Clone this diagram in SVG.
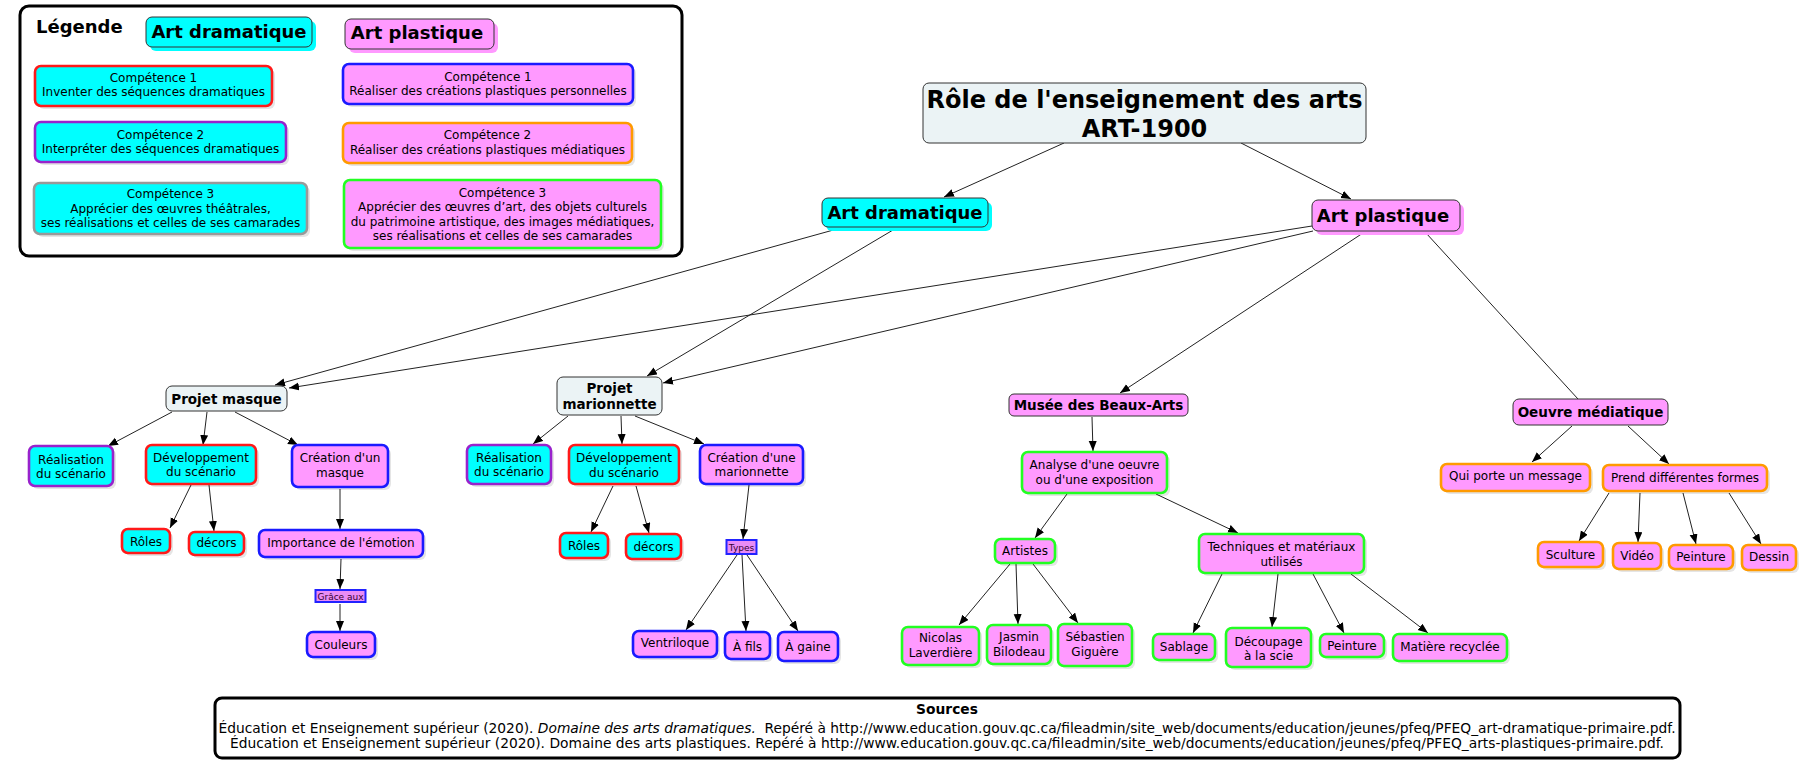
<svg xmlns="http://www.w3.org/2000/svg" width="1804" height="770" viewBox="0 0 1804 770">
<style>
text{font-family:"DejaVu Sans",Verdana,sans-serif;fill:#000;text-anchor:middle}
.t{font-size:12px}
.b{font-weight:bold}
.sh{fill:#000;opacity:0.1}
.cy{fill:#00FFFF}
.pk{fill:#FF99FF}
.lt{fill:#EBF3F5;stroke:#333;stroke-width:1}
.red{stroke:#FF1A1A;stroke-width:2.6}
.pur{stroke:#9922CC;stroke-width:2.6}
.gry{stroke:#999;stroke-width:2.6}
.blu{stroke:#1A1AFF;stroke-width:2.6}
.org{stroke:#FF9A00;stroke-width:2.6}
.grn{stroke:#22FF22;stroke-width:2.6}
.dk{stroke:#333;stroke-width:1}
.e line{stroke:#222;stroke-width:1}
.a{marker-end:url(#ah)}
.src{font-size:13.8px}
</style>
<defs>
<marker id="ah" markerUnits="userSpaceOnUse" markerWidth="11" markerHeight="9" refX="10" refY="4" orient="auto">
<path d="M0,0 L10,4 L0,8 z" fill="#000"/>
</marker>
</defs>

<g id="legende">
<rect x="20" y="6" width="662" height="250" rx="9" fill="#fff" stroke="#000" stroke-width="3"/>
<text x="36" y="33" class="b" style="font-size:18px;text-anchor:start">Légende</text>
<g id="leg-dram">
<rect x="150" y="21" width="166" height="30" rx="6" fill="#00FFFF"/>
<rect x="146" y="17" width="166" height="30" rx="6" class="cy dk"/>
<text x="229" y="38" class="b" style="font-size:18px">Art dramatique</text>
</g>
<g id="leg-plast">
<rect x="349" y="23" width="149" height="30" rx="6" fill="#FF99FF"/>
<rect x="345" y="19" width="149" height="30" rx="6" class="pk dk"/>
<text x="417" y="39" class="b" style="font-size:18px">Art plastique</text>
</g>
<g id="leg-d1">
<rect x="38" y="69" width="237" height="40" rx="6" class="sh"/>
<rect x="35" y="66" width="237" height="40" rx="6" class="cy red"/>
<text x="153.5" y="82" class="t">Compétence 1</text>
<text x="153.5" y="96" class="t">Inventer des séquences dramatiques</text>
</g>
<g id="leg-d2">
<rect x="38" y="125" width="251" height="40" rx="6" class="sh"/>
<rect x="35" y="122" width="251" height="40" rx="6" class="cy pur"/>
<text x="160.5" y="139" class="t">Compétence 2</text>
<text x="160.5" y="153" class="t">Interpréter des séquences dramatiques</text>
</g>
<g id="leg-d3">
<rect x="37" y="186" width="273" height="51" rx="6" class="sh"/>
<rect x="34" y="183" width="273" height="51" rx="6" class="cy gry"/>
<text x="170.5" y="198" class="t">Compétence 3</text>
<text x="170.5" y="212.5" class="t">Apprécier des œuvres théâtrales,</text>
<text x="170.5" y="227" class="t">ses réalisations et celles de ses camarades</text>
</g>
<g id="leg-p1">
<rect x="346" y="67" width="290" height="40" rx="6" class="sh"/>
<rect x="343" y="64" width="290" height="40" rx="6" class="pk blu"/>
<text x="488" y="81" class="t">Compétence 1</text>
<text x="488" y="95" class="t">Réaliser des créations plastiques personnelles</text>
</g>
<g id="leg-p2">
<rect x="346" y="126" width="289" height="40" rx="6" class="sh"/>
<rect x="343" y="123" width="289" height="40" rx="6" class="pk org"/>
<text x="487.5" y="139" class="t">Compétence 2</text>
<text x="487.5" y="154" class="t">Réaliser des créations plastiques médiatiques</text>
</g>
<g id="leg-p3">
<rect x="347" y="183" width="317" height="68" rx="6" class="sh"/>
<rect x="344" y="180" width="317" height="68" rx="6" class="pk grn"/>
<text x="502.5" y="197" class="t">Compétence 3</text>
<text x="502.5" y="211" class="t">Apprécier des œuvres d’art, des objets culturels</text>
<text x="502.5" y="225.5" class="t">du patrimoine artistique, des images médiatiques,</text>
<text x="502.5" y="240" class="t">ses réalisations et celles de ses camarades</text>
</g>
</g>

<g id="connecteurs" class="e">
<line x1="1064" y1="143" x2="944" y2="197" class="a"/>
<line x1="1241" y1="143" x2="1351" y2="199" class="a"/>
<line x1="837" y1="229" x2="275" y2="385" class="a"/>
<line x1="893" y1="230" x2="647" y2="376" class="a"/>
<line x1="1312" y1="226" x2="289" y2="388" class="a"/>
<line x1="1313" y1="231" x2="663" y2="383" class="a"/>
<line x1="1363" y1="233" x2="1120" y2="393" class="a"/>
<line x1="1426" y1="233" x2="1578" y2="399"/>
<line x1="172" y1="412" x2="108" y2="446" class="a"/>
<line x1="207" y1="412" x2="203" y2="445" class="a"/>
<line x1="235" y1="412" x2="298" y2="445" class="a"/>
<line x1="191" y1="485" x2="170" y2="528" class="a"/>
<line x1="209" y1="485" x2="214" y2="531" class="a"/>
<line x1="340" y1="489" x2="340" y2="529" class="a"/>
<line x1="341" y1="559" x2="340" y2="589" class="a"/>
<line x1="340" y1="604" x2="340" y2="631" class="a"/>
<line x1="568" y1="416" x2="533" y2="444" class="a"/>
<line x1="621" y1="416" x2="622" y2="444" class="a"/>
<line x1="635" y1="416" x2="704" y2="444" class="a"/>
<line x1="613" y1="486" x2="591" y2="532" class="a"/>
<line x1="636" y1="486" x2="649" y2="533" class="a"/>
<line x1="749" y1="485" x2="743" y2="539" class="a"/>
<line x1="737" y1="555" x2="686" y2="630" class="a"/>
<line x1="742" y1="555" x2="746" y2="631" class="a"/>
<line x1="747" y1="555" x2="798" y2="631" class="a"/>
<line x1="1092" y1="417" x2="1093" y2="451" class="a"/>
<line x1="1067" y1="494" x2="1035" y2="538" class="a"/>
<line x1="1156" y1="494" x2="1238" y2="533" class="a"/>
<line x1="1010" y1="564" x2="959" y2="625" class="a"/>
<line x1="1016" y1="564" x2="1018" y2="624" class="a"/>
<line x1="1033" y1="564" x2="1078" y2="623" class="a"/>
<line x1="1222" y1="574" x2="1193" y2="633" class="a"/>
<line x1="1278" y1="574" x2="1272" y2="627" class="a"/>
<line x1="1313" y1="574" x2="1344" y2="633" class="a"/>
<line x1="1351" y1="574" x2="1428" y2="633" class="a"/>
<line x1="1572" y1="426" x2="1532" y2="462" class="a"/>
<line x1="1628" y1="426" x2="1669" y2="464" class="a"/>
<line x1="1609" y1="493" x2="1579" y2="541" class="a"/>
<line x1="1640" y1="493" x2="1638" y2="542" class="a"/>
<line x1="1683" y1="493" x2="1696" y2="544" class="a"/>
<line x1="1729" y1="493" x2="1761" y2="544" class="a"/>
</g>

<g id="titre">
<rect x="923" y="83" width="443" height="60" rx="6" class="lt"/>
<text x="1144.5" y="108" class="b" style="font-size:24px">Rôle de l'enseignement des arts</text>
<text x="1144.5" y="137" class="b" style="font-size:24px">ART-1900</text>
</g>
<g id="art-dramatique">
<rect x="826" y="202" width="166" height="29" rx="6" fill="#00FFFF"/>
<rect x="822" y="198" width="166" height="29" rx="6" class="cy dk"/>
<text x="905" y="219" class="b" style="font-size:18px">Art dramatique</text>
</g>
<g id="art-plastique">
<rect x="1316" y="204" width="148" height="31" rx="6" fill="#FF99FF"/>
<rect x="1312" y="200" width="148" height="31" rx="6" class="pk dk"/>
<text x="1383" y="222" class="b" style="font-size:18px">Art plastique</text>
</g>
<g id="projet-masque">
<rect x="166" y="386" width="121" height="25" rx="6" class="lt"/>
<text x="226.5" y="403.5" class="b" style="font-size:13.5px">Projet masque</text>
</g>
<g id="projet-marionnette">
<rect x="557" y="377" width="105" height="38" rx="6" class="lt"/>
<text x="609.5" y="393" class="b" style="font-size:13.5px">Projet</text>
<text x="609.5" y="409" class="b" style="font-size:13.5px">marionnette</text>
</g>
<g id="musee">
<rect x="1009" y="394" width="179" height="22" rx="5" class="pk dk"/>
<text x="1098.5" y="410" class="b" style="font-size:13.5px">Musée des Beaux-Arts</text>
</g>
<g id="oeuvre-mediatique">
<rect x="1513" y="399" width="155" height="26" rx="6" class="pk dk"/>
<text x="1590.5" y="417" class="b" style="font-size:13.5px">Oeuvre médiatique</text>
</g>

<g id="m-realisation">
<rect x="32" y="449" width="84" height="40" rx="6" class="sh"/>
<rect x="29" y="446" width="84" height="40" rx="6" class="cy pur"/>
<text x="71" y="464" class="t">Réalisation</text>
<text x="71" y="478" class="t">du scénario</text>
</g>
<g id="m-developpement">
<rect x="149" y="448" width="110" height="39" rx="6" class="sh"/>
<rect x="146" y="445" width="110" height="39" rx="6" class="cy red"/>
<text x="201" y="462" class="t">Développement</text>
<text x="201" y="476" class="t">du scénario</text>
</g>
<g id="m-creation">
<rect x="295" y="448" width="96" height="42" rx="6" class="sh"/>
<rect x="292" y="445" width="96" height="42" rx="6" class="pk blu"/>
<text x="340" y="462" class="t">Création d'un</text>
<text x="340" y="477" class="t">masque</text>
</g>
<g id="m-roles">
<rect x="125" y="532" width="48" height="24" rx="6" class="sh"/>
<rect x="122" y="529" width="48" height="24" rx="6" class="cy red"/>
<text x="146" y="546" class="t">Rôles</text>
</g>
<g id="m-decors">
<rect x="192" y="535" width="55" height="23" rx="6" class="sh"/>
<rect x="189" y="532" width="55" height="23" rx="6" class="cy red"/>
<text x="216.5" y="547" class="t">décors</text>
</g>
<g id="m-importance">
<rect x="262" y="533" width="164" height="27" rx="6" class="sh"/>
<rect x="259" y="530" width="164" height="27" rx="6" class="pk blu"/>
<text x="341" y="547" class="t">Importance de l'émotion</text>
</g>
<g id="m-grace">
<rect x="315.5" y="590" width="50" height="12" fill="#E98CF5" stroke="#2222FF" stroke-width="2"/>
<text x="340.5" y="599.5" style="font-size:9px;fill:#303">Grâce aux</text>
</g>
<g id="m-couleurs">
<rect x="310" y="635" width="68" height="25" rx="6" class="sh"/>
<rect x="307" y="632" width="68" height="25" rx="6" class="pk blu"/>
<text x="341" y="649" class="t">Couleurs</text>
</g>

<g id="p-realisation">
<rect x="470" y="448" width="84" height="39" rx="6" class="sh"/>
<rect x="467" y="445" width="84" height="39" rx="6" class="cy pur"/>
<text x="509" y="462" class="t">Réalisation</text>
<text x="509" y="476" class="t">du scénario</text>
</g>
<g id="p-developpement">
<rect x="572" y="448" width="110" height="39" rx="6" class="sh"/>
<rect x="569" y="445" width="110" height="39" rx="6" class="cy red"/>
<text x="624" y="462" class="t">Développement</text>
<text x="624" y="477" class="t">du scénario</text>
</g>
<g id="p-creation">
<rect x="703" y="448" width="103" height="39" rx="6" class="sh"/>
<rect x="700" y="445" width="103" height="39" rx="6" class="pk blu"/>
<text x="751.5" y="462" class="t">Création d'une</text>
<text x="751.5" y="476" class="t">marionnette</text>
</g>
<g id="p-roles">
<rect x="563" y="536" width="48" height="25" rx="6" class="sh"/>
<rect x="560" y="533" width="48" height="25" rx="6" class="cy red"/>
<text x="584" y="550" class="t">Rôles</text>
</g>
<g id="p-decors">
<rect x="629" y="537" width="55" height="25" rx="6" class="sh"/>
<rect x="626" y="534" width="55" height="25" rx="6" class="cy red"/>
<text x="653.5" y="551" class="t">décors</text>
</g>
<g id="p-types">
<rect x="726.5" y="540" width="30" height="14" fill="#E98CF5" stroke="#2222FF" stroke-width="2"/>
<text x="741.5" y="550.5" style="font-size:9px;fill:#303">Types</text>
</g>
<g id="p-ventriloque">
<rect x="636" y="634" width="84" height="26" rx="6" class="sh"/>
<rect x="633" y="631" width="84" height="26" rx="6" class="pk blu"/>
<text x="675" y="647" class="t">Ventriloque</text>
</g>
<g id="p-fils">
<rect x="728" y="635" width="45" height="27" rx="6" class="sh"/>
<rect x="725" y="632" width="45" height="27" rx="6" class="pk blu"/>
<text x="747.5" y="651" class="t">À fils</text>
</g>
<g id="p-gaine">
<rect x="781" y="635" width="60" height="29" rx="6" class="sh"/>
<rect x="778" y="632" width="60" height="29" rx="6" class="pk blu"/>
<text x="808" y="651" class="t">À gaine</text>
</g>

<g id="analyse">
<rect x="1025" y="455" width="145" height="41" rx="6" class="sh"/>
<rect x="1022" y="452" width="145" height="41" rx="6" class="pk grn"/>
<text x="1094.5" y="469" class="t">Analyse d'une oeuvre</text>
<text x="1094.5" y="484" class="t">ou d'une exposition</text>
</g>
<g id="artistes">
<rect x="998" y="542" width="60" height="24" rx="6" class="sh"/>
<rect x="995" y="539" width="60" height="24" rx="6" class="pk grn"/>
<text x="1025" y="555" class="t">Artistes</text>
</g>
<g id="techniques">
<rect x="1202" y="537" width="165" height="39" rx="6" class="sh"/>
<rect x="1199" y="534" width="165" height="39" rx="6" class="pk grn"/>
<text x="1281.5" y="551" class="t">Techniques et matériaux</text>
<text x="1281.5" y="566" class="t">utilisés</text>
</g>
<g id="nicolas">
<rect x="905" y="630" width="77" height="38" rx="6" class="sh"/>
<rect x="902" y="627" width="77" height="38" rx="6" class="pk grn"/>
<text x="940.5" y="642" class="t">Nicolas</text>
<text x="940.5" y="657" class="t">Laverdière</text>
</g>
<g id="jasmin">
<rect x="990" y="628" width="64" height="39" rx="6" class="sh"/>
<rect x="987" y="625" width="64" height="39" rx="6" class="pk grn"/>
<text x="1019" y="641" class="t">Jasmin</text>
<text x="1019" y="656" class="t">Bilodeau</text>
</g>
<g id="sebastien">
<rect x="1061" y="627" width="74" height="42" rx="6" class="sh"/>
<rect x="1058" y="624" width="74" height="42" rx="6" class="pk grn"/>
<text x="1095" y="641" class="t">Sébastien</text>
<text x="1095" y="656" class="t">Giguère</text>
</g>
<g id="sablage">
<rect x="1156" y="637" width="62" height="26" rx="6" class="sh"/>
<rect x="1153" y="634" width="62" height="26" rx="6" class="pk grn"/>
<text x="1184" y="651" class="t">Sablage</text>
</g>
<g id="decoupage">
<rect x="1229" y="631" width="85" height="39" rx="6" class="sh"/>
<rect x="1226" y="628" width="85" height="39" rx="6" class="pk grn"/>
<text x="1268.5" y="646" class="t">Découpage</text>
<text x="1268.5" y="660" class="t">à la scie</text>
</g>
<g id="peinture-t">
<rect x="1323" y="637" width="64" height="23" rx="6" class="sh"/>
<rect x="1320" y="634" width="64" height="23" rx="6" class="pk grn"/>
<text x="1352" y="650" class="t">Peinture</text>
</g>
<g id="matiere">
<rect x="1396" y="637" width="114" height="27" rx="6" class="sh"/>
<rect x="1393" y="634" width="114" height="27" rx="6" class="pk grn"/>
<text x="1450" y="651" class="t">Matière recyclée</text>
</g>

<g id="qui-porte">
<rect x="1444" y="467" width="149" height="27" rx="6" class="sh"/>
<rect x="1441" y="464" width="149" height="27" rx="6" class="pk org"/>
<text x="1515.5" y="480" class="t">Qui porte un message</text>
</g>
<g id="prend">
<rect x="1606" y="468" width="164" height="26" rx="6" class="sh"/>
<rect x="1603" y="465" width="164" height="26" rx="6" class="pk org"/>
<text x="1685" y="482" class="t">Prend différentes formes</text>
</g>
<g id="sculture">
<rect x="1541" y="545" width="65" height="25" rx="6" class="sh"/>
<rect x="1538" y="542" width="65" height="25" rx="6" class="pk org"/>
<text x="1570.5" y="559" class="t">Sculture</text>
</g>
<g id="video">
<rect x="1616" y="546" width="48" height="26" rx="6" class="sh"/>
<rect x="1613" y="543" width="48" height="26" rx="6" class="pk org"/>
<text x="1637" y="560" class="t">Vidéo</text>
</g>
<g id="peinture-o">
<rect x="1672" y="548" width="64" height="24" rx="6" class="sh"/>
<rect x="1669" y="545" width="64" height="24" rx="6" class="pk org"/>
<text x="1701" y="561" class="t">Peinture</text>
</g>
<g id="dessin">
<rect x="1745" y="548" width="54" height="25" rx="6" class="sh"/>
<rect x="1742" y="545" width="54" height="25" rx="6" class="pk org"/>
<text x="1769" y="561" class="t">Dessin</text>
</g>

<g id="sources">
<rect x="215" y="698" width="1465" height="60" rx="7" fill="#fff" stroke="#000" stroke-width="3"/>
<text x="947" y="714" class="b src">Sources</text>
<text x="947" y="733" class="src">Éducation et Enseignement supérieur (2020). <tspan font-style="italic">Domaine des arts dramatiques.</tspan>&#160; Repéré à http://www.education.gouv.qc.ca/fileadmin/site_web/documents/education/jeunes/pfeq/PFEQ_art-dramatique-primaire.pdf.</text>
<text x="947" y="748" class="src">Éducation et Enseignement supérieur (2020). Domaine des arts plastiques. Repéré à http://www.education.gouv.qc.ca/fileadmin/site_web/documents/education/jeunes/pfeq/PFEQ_arts-plastiques-primaire.pdf.</text>
</g>
</svg>
